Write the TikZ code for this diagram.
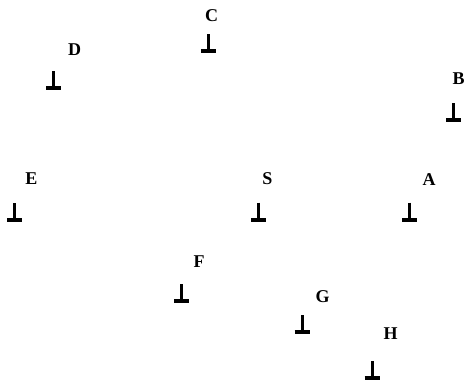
\documentclass[tikz,border=0pt]{standalone}
\usepackage{fontspec}
\setmainfont{Liberation Serif}
\tikzset{
  lbl/.style={inner sep=0pt, font=\fontsize{18}{18}\selectfont\bfseries},
  tackstem/.style={line width=3pt},
  tackbar/.style={line width=4pt}
}
\newcommand{\tack}[2]{%
  \draw[tackstem] (#1,#2-19) -- (#1,#2-3);
  \draw[tackbar] (#1-7.5,#2-2) -- (#1+7.5,#2-2);
}
\begin{document}
\begin{tikzpicture}[x=1pt,y=-1pt]
\useasboundingbox (0,0) rectangle (466,381);
\node[lbl] (C) at (211.5,16) {C};
\node[lbl] (D) at (74.5,49.5) {D};
\node[lbl] (B) at (458.5,78.5) {B};
\node[lbl] (E) at (31.5,179) {E};
\node[lbl] (S) at (267.5,179) {S};
\node[lbl] (A) at (429,180) {A};
\node[lbl] (F) at (199,261.5) {F};
\node[lbl] (G) at (322.5,296.5) {G};
\node[lbl] (H) at (390.5,333.3) {H};
\tack{208.3}{53}
\tack{53.5}{90}
\tack{453.7}{122}
\tack{14.5}{222}
\tack{258.8}{221.7}
\tack{409.5}{221.5}
\tack{181.5}{303}
\tack{302}{334}
\tack{372}{380}
\end{tikzpicture}
\end{document}
